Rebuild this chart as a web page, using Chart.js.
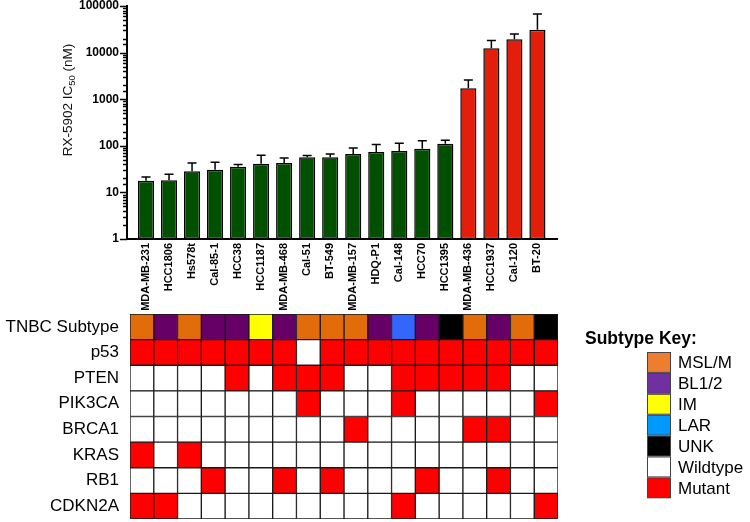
<!DOCTYPE html>
<html>
<head>
<meta charset="utf-8">
<script src="https://cdn.jsdelivr.net/npm/chart.js@4.4.0/dist/chart.umd.min.js"></script>
<style>
    html, body { margin: 0; padding: 0; background: #fff; }
    #wrap { position: relative; width: 750px; height: 522px; }
    #ic50Chart { position: absolute; left: 0; top: 0; }
    #mutationChart { position: absolute; left: 0; top: 300px; }
</style>
</head>
<body>
<div id="wrap">
    <canvas id="ic50Chart" width="750" height="315"></canvas>
    <canvas id="mutationChart" width="750" height="222"></canvas>
</div>
<script>
// Cell lines (x axis of both panels)
const cellLines = [
    "MDA-MB-231", "HCC1806", "Hs578t", "Cal-85-1", "HCC38", "HCC1187",
    "MDA-MB-468", "Cal-51", "BT-549", "MDA-MB-157", "HDQ-P1", "Cal-148",
    "HCC70", "HCC1395", "MDA-MB-436", "HCC1937", "Cal-120", "BT-20",
];

// RX-5902 IC50 (nM), mean and upper SD
const ic50Mean = [17.7, 18.3, 28.6, 30.5, 35.3, 41, 42.5, 57, 57, 67, 74, 77, 86, 110, 1715, 12450, 19400, 30800];
const ic50Sd = [3.8, 6.3, 14.4, 14.1, 4.5, 22, 12.5, 5, 10, 23, 33, 37, 42, 22, 875, 5650, 5700, 36200];
const response = ["S", "S", "S", "S", "S", "S", "S", "S", "S", "S", "S", "S", "S", "S", "R", "R", "R", "R"];

const yTickLabels = ["1", "10", "100", "1000", "10000", "100000"];

// Heatmap rows
const rowLabels = ["TNBC Subtype", "p53", "PTEN", "PIK3CA", "BRCA1", "KRAS", "RB1", "CDKN2A"];
const subtype = ["MSL/M", "BL1/2", "MSL/M", "BL1/2", "BL1/2", "IM", "BL1/2", "MSL/M", "MSL/M",
    "MSL/M", "BL1/2", "LAR", "BL1/2", "UNK", "MSL/M", "BL1/2", "MSL/M", "UNK"];
const p53    = [1, 1, 1, 1, 1, 1, 1, 0, 1, 1, 1, 1, 1, 1, 1, 1, 1, 1];
const pten   = [0, 0, 0, 0, 1, 0, 1, 1, 1, 0, 0, 1, 1, 1, 1, 1, 0, 0];
const pik3ca = [0, 0, 0, 0, 0, 0, 0, 1, 0, 0, 0, 1, 0, 0, 0, 0, 0, 1];
const brca1  = [0, 0, 0, 0, 0, 0, 0, 0, 0, 1, 0, 0, 0, 0, 1, 1, 0, 0];
const kras   = [1, 0, 1, 0, 0, 0, 0, 0, 0, 0, 0, 0, 0, 0, 0, 0, 0, 0];
const rb1    = [0, 0, 0, 1, 0, 0, 1, 0, 1, 0, 0, 0, 1, 0, 0, 1, 0, 0];
const cdkn2a = [1, 1, 0, 0, 0, 0, 0, 0, 0, 0, 0, 1, 0, 0, 0, 0, 0, 1];

// Subtype key
const keyLabels = ["MSL/M", "BL1/2", "IM", "LAR", "UNK", "Wildtype", "Mutant"];
const keyColors = ["#ED7D31", "#7030A0", "#FFFF00", "#0099FF", "#000000", "#FFFFFF", "#FF0000"];

const subtypeFill = { "MSL/M": "#E36C0A", "BL1/2": "#660066", IM: "#FFFF00", LAR: "#3366FF", UNK: "#000000" };
const mutantFill = "#FF0000";
const wildFill = "#FFFFFF";

Chart.defaults.font.family = "'Liberation Sans', Arial, sans-serif";
Chart.defaults.color = "#000";

// y axis title with subscript
const axisTitlePlugin = {
    id: "axisTitle",
    afterDraw(chart) {
        const { ctx } = chart;
        const parts = [
            { t: "RX-5902 IC", size: 13.5, dy: 0 },
            { t: "50", size: 9.5, dy: 3 },
            { t: " (nM)", size: 13.5, dy: 0 },
        ];
        ctx.save();
        let w = 0;
        parts.forEach((p) => {
            ctx.font = p.size + "px 'Liberation Sans', Arial, sans-serif";
            p.w = ctx.measureText(p.t).width;
            w += p.w;
        });
        ctx.translate(71.5, 100);
        ctx.rotate(-Math.PI / 2);
        ctx.fillStyle = "#111";
        ctx.textBaseline = "alphabetic";
        let x = -w / 2;
        parts.forEach((p) => {
            ctx.font = p.size + "px 'Liberation Sans', Arial, sans-serif";
            ctx.fillText(p.t, x, p.dy);
            x += p.w;
        });
        ctx.restore();
    },
};

// log axis tick marks (major + minor)
const logTicksPlugin = {
    id: "logTicks",
    afterDraw(chart) {
        const { ctx } = chart;
        const yScale = chart.scales.y;
        ctx.save();
        ctx.strokeStyle = "#000";
        ctx.lineWidth = 1.5;
        yScale.ticks.forEach((tick) => {
            const y = Math.round(yScale.getPixelForValue(tick.value)) + 0.5;
            const len = yTickLabels.includes(String(tick.value)) ? 7 : 4;
            ctx.beginPath();
            ctx.moveTo(yScale.right - len, y);
            ctx.lineTo(yScale.right, y);
            ctx.stroke();
        });
        ctx.restore();
    },
};

// upper error bars
const errorBarPlugin = {
    id: "errorBars",
    afterDatasetsDraw(chart) {
        const { ctx } = chart;
        const yScale = chart.scales.y;
        const meta = chart.getDatasetMeta(0);
        ctx.save();
        ctx.strokeStyle = "#000";
        ctx.lineWidth = 1.5;
        meta.data.forEach((bar, i) => {
            const yTop = yScale.getPixelForValue(ic50Mean[i] + ic50Sd[i]);
            ctx.beginPath();
            ctx.moveTo(bar.x, bar.y);
            ctx.lineTo(bar.x, yTop);
            ctx.moveTo(bar.x - 4.5, yTop);
            ctx.lineTo(bar.x + 4.5, yTop);
            ctx.stroke();
        });
        ctx.restore();
    },
};

// subtype key drawn at the right of the heatmap
const keyPlugin = {
    id: "subtypeKey",
    afterDraw(chart) {
        const { ctx } = chart;
        ctx.save();
        ctx.fillStyle = "#000";
        ctx.font = "bold 17.5px 'Liberation Sans', Arial, sans-serif";
        ctx.textBaseline = "alphabetic";
        ctx.fillText("Subtype Key:", 585, 44);
        const boxH = 20.9;
        ctx.font = "17px 'Liberation Sans', Arial, sans-serif";
        ctx.textBaseline = "middle";
        keyLabels.forEach((label, i) => {
            const y = 52 + i * boxH;
            ctx.fillStyle = "#444";
            ctx.fillRect(647, y, 24, boxH);
            ctx.fillStyle = keyColors[i];
            ctx.fillRect(648, y + 1, 22, boxH - 2);
            ctx.fillStyle = "#000";
            ctx.fillText(label, 678, y + boxH / 2 + 1);
        });
        ctx.restore();
    },
};

function noScalePadding(scale) {
    scale.paddingTop = 0;
    scale.paddingBottom = 0;
    scale.paddingLeft = 0;
    scale.paddingRight = 0;
}

function initIc50Chart() {
    const ctx = document.getElementById("ic50Chart");
    new Chart(ctx, {
        type: "bar",
        data: {
            datasets: [
                {
                    data: ic50Mean.map((v, i) => ({ x: i, y: v })),
                    backgroundColor: response.map((r) => (r === "S" ? "#005000" : "#E31E0A")),
                    borderColor: "#000",
                    borderWidth: 1.5,
                    borderSkipped: false,
                    categoryPercentage: 1,
                    barPercentage: 0.7,
                },
            ],
        },
        options: {
            responsive: false,
            animation: false,
            layout: { padding: { top: 6, right: 193, left: 0, bottom: 0 } },
            plugins: { legend: { display: false }, tooltip: { enabled: false } },
            scales: {
                x: {
                    type: "linear",
                    offset: false,
                    min: -0.825,
                    max: 17.85,
                    grid: { display: false, drawTicks: false },
                    border: { display: true, color: "#000", width: 2 },
                    ticks: {
                        stepSize: 1,
                        includeBounds: false,
                        autoSkip: false,
                        maxRotation: 90,
                        minRotation: 90,
                        padding: 4,
                        font: { size: 11, weight: "bold" },
                        callback: (v) => cellLines[v] ?? "",
                    },
                    afterFit(scale) {
                        scale.height = 76;
                        noScalePadding(scale);
                    },
                },
                y: {
                    type: "logarithmic",
                    min: 1,
                    max: 100000,
                    grid: { display: false, drawTicks: false },
                    border: { display: true, color: "#000", width: 2 },
                    ticks: {
                        autoSkip: false,
                        padding: 8,
                        font: { size: 12, weight: "bold" },
                        callback: (v) => (yTickLabels.includes(String(v)) ? String(v) : ""),
                    },
                    afterFit(scale) {
                        scale.width = 127;
                        noScalePadding(scale);
                    },
                },
            },
        },
        plugins: [axisTitlePlugin, logTicksPlugin, errorBarPlugin],
    });
}

function initMutationChart() {
    const geneRows = [p53, pten, pik3ca, brca1, kras, rb1, cdkn2a];
    const ctx = document.getElementById("mutationChart");
    new Chart(ctx, {
        type: "bar",
        data: {
            labels: rowLabels,
            datasets: cellLines.map((name, i) => ({
                label: name,
                data: rowLabels.map(() => [i - 0.5, i + 0.5]),
                backgroundColor: [subtypeFill[subtype[i]]].concat(
                    geneRows.map((row) => (row[i] ? mutantFill : wildFill))
                ),
                borderColor: "#1a1a1a",
                borderWidth: 1,
                borderSkipped: false,
                grouped: false,
                categoryPercentage: 1,
                barPercentage: 1,
            })),
        },
        options: {
            indexAxis: "y",
            responsive: false,
            animation: false,
            layout: { padding: { top: 14, right: 192, left: 0, bottom: 3 } },
            plugins: { legend: { display: false }, tooltip: { enabled: false } },
            scales: {
                x: {
                    type: "linear",
                    min: -0.5,
                    max: 17.5,
                    display: false,
                    afterFit: noScalePadding,
                },
                y: {
                    grid: { display: false, drawTicks: false },
                    border: { display: false },
                    ticks: { padding: 11, font: { size: 17 }, color: "#000" },
                    afterFit(scale) {
                        scale.width = 130;
                        noScalePadding(scale);
                    },
                },
            },
        },
        plugins: [keyPlugin],
    });
}

document.addEventListener("DOMContentLoaded", function () {
    initIc50Chart();
    initMutationChart();
});
</script>
</body>
</html>
